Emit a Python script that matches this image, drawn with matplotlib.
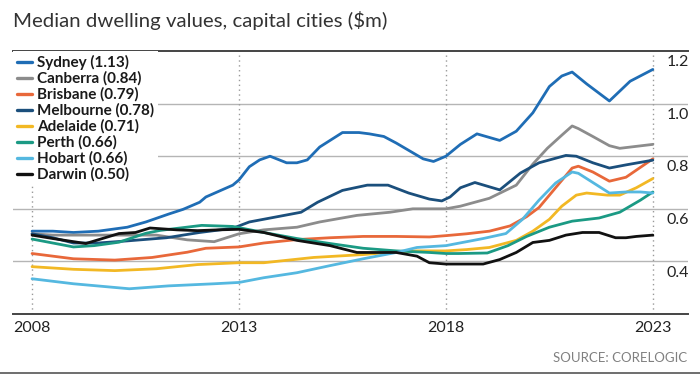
import matplotlib.pyplot as plt

# data ($m)
sydney_t = [2008, 2008.5, 2009, 2009.6, 2010.3, 2010.75, 2011.3, 2011.65, 2012.05, 2012.2, 2012.85, 2013,
            2013.25, 2013.5, 2013.75, 2014.15, 2014.4, 2014.65, 2014.95, 2015.5, 2015.9, 2016.15, 2016.5,
            2016.8, 2017.45, 2017.7, 2018, 2018.35, 2018.75, 2019.3, 2019.7, 2020.1, 2020.5, 2020.8,
            2021.05, 2021.4, 2021.95, 2022.45, 2023]
sydney_v = [0.515, 0.515, 0.51, 0.515, 0.53, 0.55, 0.58, 0.598, 0.625, 0.645, 0.69, 0.71,
            0.76, 0.786, 0.80, 0.775, 0.775, 0.786, 0.835, 0.89, 0.89, 0.885, 0.875,
            0.85, 0.79, 0.78, 0.80, 0.845, 0.885, 0.86, 0.895, 0.965, 1.065, 1.105,
            1.12, 1.075, 1.01, 1.085, 1.13]

canberra_t = [2008, 2008.5, 2009, 2010, 2011, 2011.75, 2012.4, 2013, 2013.6, 2014.4, 2014.95, 2015.85,
              2016.65, 2017.2, 2018, 2018.35, 2019.05, 2019.7, 2019.95, 2020.1, 2020.45, 2020.8, 2021.05,
              2021.2, 2021.55, 2021.95, 2022.2, 2023]
canberra_v = [0.505, 0.50, 0.50, 0.50, 0.50, 0.482, 0.475, 0.505, 0.52, 0.53, 0.55, 0.575,
              0.587, 0.60, 0.60, 0.61, 0.64, 0.69, 0.74, 0.77, 0.83, 0.88, 0.915,
              0.905, 0.875, 0.84, 0.83, 0.845]

brisbane_t = [2008, 2009, 2010, 2010.9, 2011.75, 2012.2, 2013, 2013.6, 2014.4, 2015.2, 2016, 2016.8,
              2017.6, 2018, 2018.5, 2019.05, 2019.55, 2019.95, 2020.25, 2020.65, 2021.05, 2021.2,
              2021.55, 2021.95, 2022.35, 2023]
brisbane_v = [0.43, 0.41, 0.405, 0.415, 0.435, 0.45, 0.455, 0.47, 0.483, 0.49, 0.495, 0.495,
              0.493, 0.498, 0.505, 0.515, 0.535, 0.57, 0.605, 0.68, 0.755, 0.762,
              0.74, 0.705, 0.72, 0.79]

melbourne_t = [2008, 2008.5, 2009, 2009.6, 2010.3, 2011.25, 2012.05, 2012.85, 2013.25, 2014.5,
               2014.9, 2015.5, 2016.1, 2016.6, 2017.1, 2017.6, 2017.9, 2018.1, 2018.35, 2018.7,
               2019.3, 2019.8, 2020.25, 2020.9, 2021.15, 2021.55, 2021.95, 2022.35, 2023]
melbourne_v = [0.505, 0.49, 0.47, 0.47, 0.478, 0.49, 0.51, 0.526, 0.55, 0.587,
               0.625, 0.67, 0.69, 0.69, 0.66, 0.637, 0.63, 0.645, 0.68, 0.70,
               0.672, 0.736, 0.775, 0.803, 0.80, 0.775, 0.755, 0.767, 0.785]

adelaide_t = [2008, 2009, 2010, 2011, 2012, 2013, 2013.6, 2014.8, 2016, 2016.6, 2017.3, 2018, 2018.5,
              2019.05, 2019.7, 2020.1, 2020.5, 2020.8, 2021.15, 2021.4, 2021.9, 2022.2, 2022.6, 2023]
adelaide_v = [0.38, 0.37, 0.365, 0.372, 0.388, 0.395, 0.395, 0.415, 0.426, 0.434, 0.44, 0.44, 0.445,
              0.453, 0.48, 0.515, 0.56, 0.61, 0.652, 0.66, 0.652, 0.652, 0.68, 0.715]

perth_t = [2008, 2008.5, 2009, 2009.5, 2010.1, 2010.75, 2011.1, 2012.1, 2012.85, 2013.6, 2014.4, 2015.2,
           2016, 2016.8, 2017.6, 2018, 2018.3, 2019, 2019.5, 2019.95, 2020.5, 2021.05, 2021.7, 2022.2,
           2022.7, 2023]
perth_v = [0.485, 0.47, 0.455, 0.46, 0.473, 0.507, 0.518, 0.537, 0.533, 0.51, 0.487, 0.468,
           0.45, 0.44, 0.434, 0.43, 0.43, 0.432, 0.46, 0.495, 0.53, 0.553, 0.565, 0.587,
           0.633, 0.664]

hobart_t = [2008, 2009, 2010.35, 2011.3, 2012.4, 2013, 2013.6, 2014.4, 2015.2, 2016, 2016.8, 2017.3,
            2018, 2018.9, 2019.45, 2019.85, 2020.25, 2020.65, 2021.05, 2021.2, 2021.55, 2021.95,
            2022.35, 2022.7, 2023]
hobart_v = [0.334, 0.315, 0.296, 0.307, 0.315, 0.32, 0.338, 0.357, 0.384, 0.41, 0.434, 0.453,
            0.46, 0.487, 0.506, 0.56, 0.633, 0.698, 0.74, 0.735, 0.70, 0.66,
            0.664, 0.664, 0.66]

darwin_t = [2008, 2008.5, 2009.3, 2009.7, 2010.1, 2010.5, 2010.85, 2011.5, 2012, 2012.5, 2013, 2013.6,
            2014.4, 2015.2, 2015.85, 2016.3, 2016.8, 2017.3, 2017.6, 2018, 2018.9, 2019.3, 2019.7,
            2020.1, 2020.5, 2020.9, 2021.3, 2021.7, 2022.1, 2022.35, 2022.6, 2023]
darwin_v = [0.50, 0.487, 0.468, 0.487, 0.506, 0.51, 0.527, 0.52, 0.517, 0.52, 0.522, 0.51,
            0.48, 0.46, 0.434, 0.434, 0.434, 0.42, 0.395, 0.39, 0.39, 0.407, 0.434,
            0.472, 0.48, 0.50, 0.51, 0.51, 0.49, 0.49, 0.495, 0.50]

labels = ['Sydney (1.13)', 'Canberra (0.84)', 'Brisbane (0.79)', 'Melbourne (0.78)',
          'Adelaide (0.71)', 'Perth (0.66)', 'Hobart (0.66)', 'Darwin (0.50)']
colors = ['#1f6db5', '#8c8c8c', '#e8683a', '#1b4f7c', '#f2b824', '#1b9a84', '#55b8e0', '#111111']
series = [(sydney_t, sydney_v), (canberra_t, canberra_v), (brisbane_t, brisbane_v),
          (melbourne_t, melbourne_v), (adelaide_t, adelaide_v), (perth_t, perth_v),
          (hobart_t, hobart_v), (darwin_t, darwin_v)]

year_ticks = [2008, 2013, 2018, 2023]
value_ticks = [0.4, 0.6, 0.8, 1.0, 1.2]

plt.rcParams['font.family'] = ['Lato', 'DejaVu Sans']

fig = plt.figure(figsize=(7, 3.74), dpi=100)
ax = fig.add_axes([0.0186, 0.1604, 0.9643, 0.7032])
ax.set_xlim(2007.54, 2023.85)
ax.set_ylim(0.2, 1.2)

# gridlines and dotted year markers
for v in value_ticks[:-1]:
    ax.axhline(v, color='#b5b5b5', lw=1.0, zorder=1)
for yr in year_ticks:
    ax.axvline(yr, color='#999999', lw=1.0, ls=(0, (1, 2.5)), zorder=1)

handles = []
for (t, v), lab, c in zip(series, labels, colors):
    line, = ax.plot(t, v, color=c, lw=2.0, label=lab, zorder=3, solid_capstyle='round')
    handles.append(line)

for s in ['left', 'right']:
    ax.spines[s].set_visible(False)
for s in ['top', 'bottom']:
    ax.spines[s].set_color('#444444')
    ax.spines[s].set_linewidth(1.4)

ax.set_yticks([])
ax.set_xticks(year_ticks)
ax.set_xticklabels([str(y) for y in year_ticks], fontsize=11.5, color='#222222')
ax.tick_params(axis='x', length=0, pad=5)

for v in value_ticks:
    ax.annotate(f'{v:.1f}', xy=(2023.34, v), xytext=(0, -3), textcoords='offset points',
                ha='left', va='top', fontsize=11.5, color='#222222')

leg = ax.legend(handles=handles, loc='upper left', bbox_to_anchor=(0, 1.0), frameon=True,
                fancybox=False, edgecolor='none', facecolor='white', framealpha=1,
                handlelength=1.0, handletextpad=0.3, labelspacing=0.1, borderpad=0.25,
                borderaxespad=0.0, prop={'weight': 'bold', 'size': 11})
for txt in leg.get_texts():
    txt.set_color('#1a1a1a')
for h in leg.legend_handles:
    h.set_linewidth(2.4)
leg.set_zorder(5)

fig.text(13 / 700, 1 - 20 / 374, 'Median dwelling values, capital cities ($m)', fontsize=14.7,
         color='#333333', ha='left', va='center')
fig.text(687 / 700, 1 - 358 / 374, 'SOURCE: CORELOGIC', fontsize=9.5, color='#808080',
         ha='right', va='center')
fig.add_artist(plt.Line2D([0, 1], [1 - 372.5 / 374] * 2, color='#555555', lw=1.2))

fig.savefig('out.png', dpi=100)
